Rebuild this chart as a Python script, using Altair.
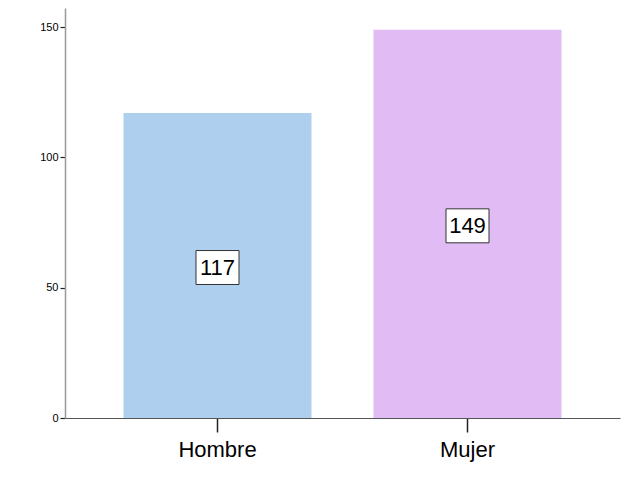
import altair as alt
import pandas as pd

categories = ["Hombre", "Mujer"]
counts = [117, 149]
colors = ["#aed0ee", "#e0bbf4"]

df = pd.DataFrame({"sexo": categories, "n": counts})
df["mid"] = df["n"] / 2

x_enc = alt.X("sexo:N", sort=categories,
              scale=alt.Scale(paddingInner=0.248, paddingOuter=0.234),
              axis=alt.Axis(title=None, labelAngle=0, labelFontSize=22, labelFont="Liberation Sans",
                            labelColor="black", tickSize=14, tickColor="#222", tickWidth=1.5,
                            domainColor="#555", domainWidth=1.2, labelPadding=7))

bars = alt.Chart(df).mark_bar(size=188).encode(
    x=x_enc,
    y=alt.Y("n:Q", scale=alt.Scale(domain=[0, 157.3], nice=False),
            axis=alt.Axis(title=None, values=[0, 50, 100, 150], grid=False, labelFontSize=11,
                          labelFont="Liberation Sans", labelColor="black", tickSize=5,
                          tickColor="#222", tickWidth=1.2, domainColor="#999", domainWidth=1.5,
                          labelPadding=2)),
    color=alt.Color("sexo:N", scale=alt.Scale(domain=categories, range=colors), legend=None),
)

boxes = alt.Chart(df).mark_point(
    shape="M-1,-0.79L1,-0.79L1,0.79L-1,0.79Z", size=1849, filled=True,
    fill="white", stroke="#333", strokeWidth=1, opacity=1, yOffset=2
).encode(x=alt.X("sexo:N", sort=categories), y="mid:Q")

labels = alt.Chart(df).mark_text(fontSize=22, font="Liberation Sans", color="black", yOffset=2,
                                 baseline="middle").encode(
    x=alt.X("sexo:N", sort=categories), y="mid:Q", text="n:Q")

chart = (bars + boxes + labels).properties(
    width=555, height=410,
    autosize=alt.AutoSizeParams(type="none"),
    padding={"left": 57, "top": 0, "right": 1, "bottom": 70},
).configure_view(stroke=None)

chart.save("out.html", embed_options={"renderer": "svg", "actions": False})
